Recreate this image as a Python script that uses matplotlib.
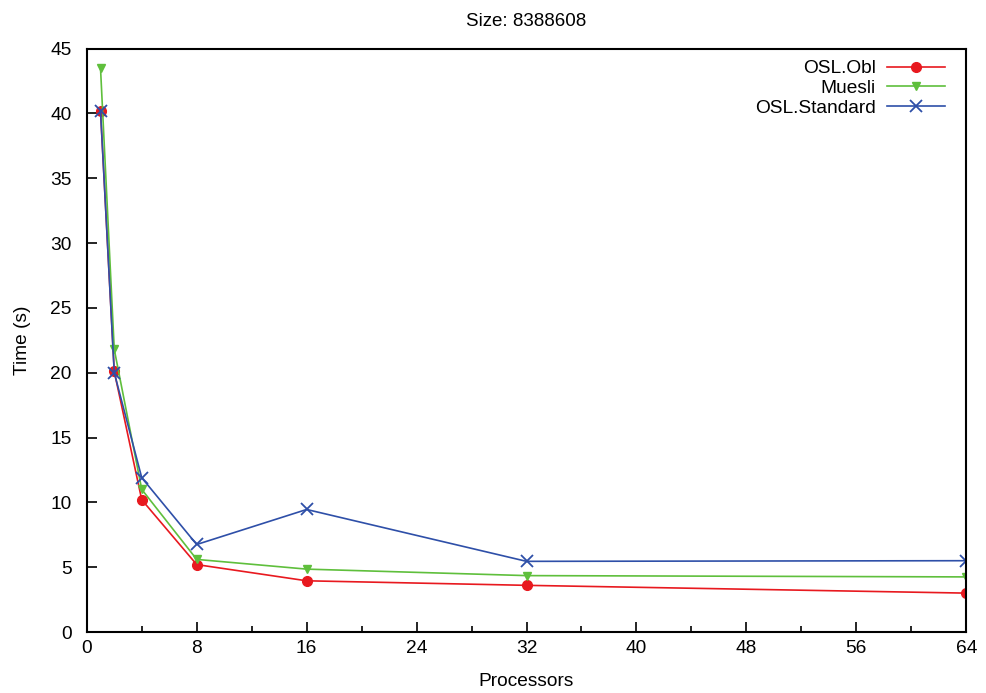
import matplotlib
matplotlib.use("Agg")
import matplotlib.pyplot as plt
from matplotlib.ticker import MultipleLocator

procs = [1, 2, 4, 8, 16, 32, 64]
osl_obl = [40.2, 20.1, 10.2, 5.2, 3.95, 3.6, 3.0]
muesli = [43.5, 21.8, 11.0, 5.6, 4.85, 4.35, 4.25]
osl_standard = [40.2, 20.0, 11.9, 6.75, 9.45, 5.45, 5.5]

plt.rcParams['font.family'] = ['Liberation Sans', 'DejaVu Sans']

fig = plt.figure(figsize=(9.86, 6.93), dpi=100)
ax = fig.add_axes([0.088, 0.088, 0.892, 0.842])

ax.plot(procs, osl_obl, color='#e8191f', marker='o', markersize=7, lw=1.2, label='OSL.Obl')
ax.plot(procs, muesli, color='#5fbf3c', marker='v', markersize=6, lw=1.2, label='Muesli')
ax.plot(procs, osl_standard, color='#2e4fa8', marker='x', markersize=8, mew=1.3, lw=1.2, label='OSL.Standard')

ax.set_xlim(0, 64)
ax.set_ylim(0, 45)
ax.xaxis.set_major_locator(MultipleLocator(8))
ax.xaxis.set_minor_locator(MultipleLocator(4))
ax.yaxis.set_major_locator(MultipleLocator(5))
ax.tick_params(which='both', direction='in', top=False, right=False, labelsize=13.8)
ax.tick_params(which='major', length=7, width=1.2)
ax.tick_params(which='minor', length=4, width=1.2)
ax.tick_params(axis='x', pad=6)
ax.tick_params(axis='y', pad=11)
for s in ax.spines.values():
    s.set_linewidth(1.5)

ax.set_xlabel('Processors', fontsize=13.8, labelpad=11)
ax.set_ylabel('Time (s)', fontsize=13.8, labelpad=14)
ax.set_title('Size: 8388608', fontsize=13.5, pad=16)

leg = ax.legend(loc='upper right', frameon=False, fontsize=13.8, markerfirst=False,
                handlelength=3.0, handletextpad=0.6, labelspacing=0.12,
                bbox_to_anchor=(0.995, 1.01))
for t in leg.get_texts():
    t.set_ha('right')

fig.savefig('out.png', dpi=100)
